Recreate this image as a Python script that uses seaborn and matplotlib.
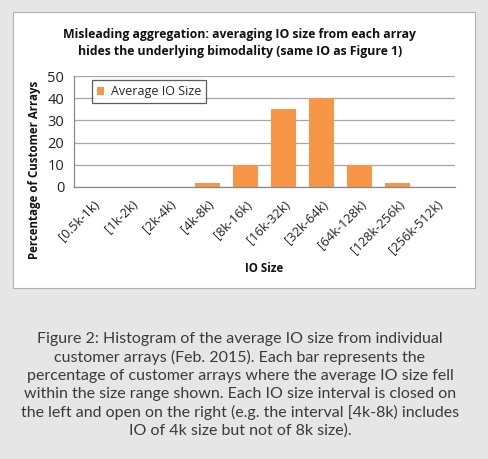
import matplotlib
matplotlib.use('Agg')
import matplotlib.pyplot as plt
import seaborn as sns
import pandas as pd
import numpy as np
from matplotlib.patches import Rectangle

# data
io_bins = ['[0.5k-1k)', '[1k-2k)', '[2k-4k)', '[4k-8k)', '[8k-16k)',
           '[16k-32k)', '[32k-64k)', '[64k-128k)', '[128k-256k)', '[256k-512k)']
pct_arrays = [0, 0, 0, 2, 10, 35, 40, 10, 2, 0]
y_ticks = [0, 10, 20, 30, 40, 50]

df = pd.DataFrame({'bin': io_bins, 'pct': pct_arrays, 'series': 'Average IO Size'})

sns.set_theme(style='white')
plt.rcParams['font.family'] = ['Open Sans', 'DejaVu Sans']

W, H = 489, 459
fig = plt.figure(figsize=(W / 100, H / 100), dpi=100)
fig.patch.set_facecolor('#e6e6e6')

# white chart panel (behind the axes)
fig.patches.append(Rectangle((13 / W, 1 - 288 / H), (475 - 13) / W, (288 - 12) / H,
                             transform=fig.transFigure, facecolor='white',
                             edgecolor='#b0b0b0', linewidth=0.8, zorder=-5))

ax = fig.add_axes([74 / W, 1 - 187 / H, (455 - 74) / W, (187 - 76) / H])
ax.set_zorder(2)
ax.set_facecolor('white')

sns.barplot(data=df, x='bin', y='pct', hue='series', palette=['#F79646'],
            width=0.66, ax=ax, saturation=1, linewidth=0)

ax.set_ylim(0, 50)
ax.set_xlim(-0.5, len(io_bins) - 0.5)
ax.set_yticks(y_ticks)
ax.yaxis.grid(True, color='#a6a6a6', linewidth=0.9)
ax.set_axisbelow(True)

for side in ['top', 'right']:
    ax.spines[side].set_visible(False)
for side in ['left', 'bottom']:
    ax.spines[side].set_color('#888888')
    ax.spines[side].set_linewidth(0.9)

ax.tick_params(axis='y', which='major', length=4, width=0.9, color='#888888',
               labelsize=10.5, labelcolor='#222222', pad=3)
ax.set_xticks(range(len(io_bins)))
ax.set_xticklabels(io_bins, rotation=45, ha='right', rotation_mode='anchor',
                   fontsize=9.3, color='#222222')
ax.tick_params(axis='x', which='major', length=0, pad=8)
ax.set_xticks(np.arange(-0.5, len(io_bins)), minor=True)
ax.tick_params(axis='x', which='minor', length=4, width=0.9, color='#888888')

ax.set_xlabel('')
ax.set_ylabel('')

leg = ax.legend(loc='upper left', bbox_to_anchor=(0.047, 0.964), frameon=True,
                fancybox=False, edgecolor='#333333', fontsize=9,
                handlelength=0.6, handleheight=0.6, handletextpad=0.5,
                borderpad=0.4, borderaxespad=0)
leg.get_frame().set_linewidth(0.9)

fig.text(240 / W, 1 - 43 / H,
         'Misleading aggregation: averaging IO size from each array\n'
         'hides the underlying bimodality (same IO as Figure 1)',
         ha='center', va='center', fontsize=8.8, fontweight='bold',
         color='#111111', linespacing=1.45)

fig.text(35 / W, 1 - 170 / H, 'Percentage of Customer Arrays', rotation=90,
         ha='center', va='center', fontsize=8.3, fontweight='bold', color='#111111')
fig.text(264 / W, 1 - 269 / H, 'IO Size', ha='center', va='center',
         fontsize=8.3, fontweight='bold', color='#111111')

caption = ('Figure 2: Histogram of the average IO size from individual\n'
           'customer arrays (Feb. 2015). Each bar represents the\n'
           'percentage of customer arrays where the average IO size fell\n'
           'within the size range shown. Each IO size interval is closed on\n'
           'the left and open on the right (e.g. the interval [4k-8k) includes\n'
           'IO of 4k size but not of 8k size).')
fig.text(240 / W, 1 - 385 / H, caption, ha='center', va='center',
         fontsize=11.5, color='#3a3a3a', family=['Lato', 'DejaVu Sans'],
         linespacing=1.33)

fig.savefig('out.png', dpi=100, facecolor=fig.get_facecolor())
